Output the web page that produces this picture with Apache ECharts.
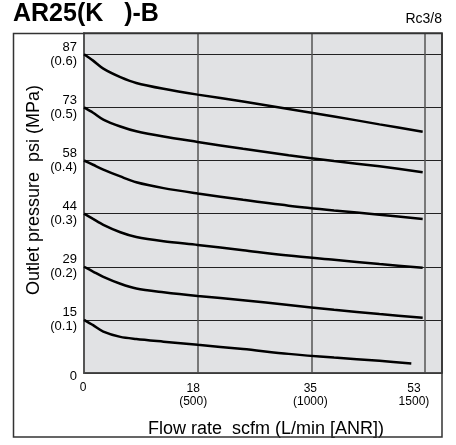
<!DOCTYPE html>
<html><head><meta charset="utf-8">
<script src="https://cdn.jsdelivr.net/npm/echarts@6/dist/echarts.min.js"></script>
<style>html,body{margin:0;padding:0;background:#fff}#c{width:456px;height:445px}</style>
</head><body><div id="c"></div>
<script>
// Flow rate in L/min [ANR], outlet pressure in MPa
const flow = [0, 40, 85, 160, 230, 350, 500, 700, 900, 1100, 1300, 1490];
const flowLow = [0, 40, 85, 160, 230, 350, 500, 700, 900, 1100, 1300, 1440];
const p06 = [0.600, 0.588, 0.573, 0.557, 0.546, 0.535, 0.524, 0.511, 0.497, 0.483, 0.468, 0.454];
const p05 = [0.500, 0.490, 0.477, 0.464, 0.455, 0.445, 0.435, 0.422, 0.410, 0.399, 0.389, 0.378];
const p04 = [0.400, 0.392, 0.383, 0.370, 0.359, 0.348, 0.338, 0.326, 0.315, 0.306, 0.298, 0.290];
const p03 = [0.300, 0.290, 0.279, 0.265, 0.256, 0.248, 0.241, 0.231, 0.221, 0.213, 0.205, 0.198];
const p02 = [0.200, 0.191, 0.181, 0.168, 0.159, 0.152, 0.145, 0.137, 0.128, 0.119, 0.111, 0.104];
const p01 = [0.100, 0.090, 0.078, 0.068, 0.064, 0.059, 0.053, 0.045, 0.036, 0.029, 0.023, 0.018];

const xTickValues = [0, 500, 1000, 1500];
const xTickScfm = ['0', '18', '35', '53'];
const xTickLmin = ['', '(500)', '(1000)', '1500)'];
const yTickPsi = ['0', '15', '29', '44', '58', '73', '87'];
const yTickMPa = ['', '(0.1)', '(0.2)', '(0.3)', '(0.4)', '(0.5)', '(0.6)'];

const titleText = 'AR25(K   )-B';
const portText = 'Rc3/8';
const xTitle = 'Flow rate  scfm (L/min [ANR])';
const yTitle = 'Outlet pressure  psi (MPa)';

const curves = [
  {x: flow, y: p06}, {x: flow, y: p05}, {x: flow, y: p04},
  {x: flow, y: p03}, {x: flow, y: p02}, {x: flowLow, y: p01}
];

const FONT = '"Liberation Sans", Arial, Helvetica, sans-serif';
const xShift = [0, 9, 2, 22];
const chart = echarts.init(document.getElementById('c'), null, {renderer: 'canvas'});

const xRich = {z: {fontSize: 12, fontFamily: FONT, color: '#000', padding: [0, 2, 0, 0]}};
xTickValues.forEach((v, i) => {
  xRich['a' + i] = {fontSize: 12, fontFamily: FONT, color: '#000', lineHeight: 13, padding: [0, xShift[i], 0, 0]};
});

chart.setOption({
  animation: false,
  backgroundColor: '#fff',
  grid: {left: 84, top: 33, right: 14, bottom: 72, containLabel: false, outerBoundsMode: 'none',
         show: true, backgroundColor: '#e1e2e4', borderColor: '#444', borderWidth: 1.5},
  graphic: [
    {type: 'rect', shape: {x: 13.5, y: 33.5, width: 428.5, height: 403.5}, style: {fill: 'none', stroke: '#333', lineWidth: 1.5}, z: 10},
    {type: 'text', x: 13, y: 2, style: {text: titleText, font: 'bold 25px ' + FONT, fill: '#000'}},
    {type: 'text', x: 442, y: 19, style: {text: portText, font: '14px ' + FONT, fill: '#000', textAlign: 'right', textVerticalAlign: 'middle'}},
    {type: 'text', x: 266, y: 429, style: {text: xTitle, font: '18px ' + FONT, fill: '#000', textAlign: 'center', textVerticalAlign: 'middle'}},
    {type: 'text', x: 34, y: 190, rotation: Math.PI / 2, style: {text: yTitle, font: '18px ' + FONT, fill: '#000', textAlign: 'center', textVerticalAlign: 'middle'}}
  ],
  xAxis: {
    type: 'value', min: 0, max: 1575, interval: 500,
    axisLine: {show: true, lineStyle: {color: '#444', width: 1.5}},
    axisTick: {show: false},
    splitLine: {show: true, lineStyle: {color: '#555', width: 1.5}},
    axisLabel: {
      margin: 9, fontFamily: FONT, color: '#000', showMaxLabel: false,
      formatter: function (v) {
        const i = xTickValues.indexOf(Math.round(v));
        if (i < 0) return '';
        if (i === 0) return '{z|0}';
        return '{a' + i + '|' + xTickScfm[i] + '}\n{a' + i + '|' + xTickLmin[i] + '}';
      },
      rich: xRich
    }
  },
  yAxis: {
    type: 'value', min: 0, max: 0.64, interval: 0.1,
    axisLine: {show: true, lineStyle: {color: '#555', width: 2}},
    axisTick: {show: false},
    splitLine: {show: true, lineStyle: {color: '#222', width: 1}},
    axisLabel: {
      margin: 7, fontFamily: FONT, color: '#000', showMaxLabel: false,
      formatter: function (v) {
        const i = Math.round(v * 10);
        if (Math.abs(v * 10 - i) > 0.01 || i > 6) return '';
        if (i === 0) return '{z|0}';
        return '{a|' + yTickPsi[i] + '}\n{b|' + yTickMPa[i] + '}';
      },
      rich: {
        z: {fontSize: 13, fontFamily: FONT, color: '#000', padding: [6, 0, 0, 0]},
        a: {fontSize: 13, fontFamily: FONT, color: '#000', lineHeight: 14, align: 'right'},
        b: {fontSize: 13, fontFamily: FONT, color: '#000', lineHeight: 14, align: 'right'}
      }
    }
  },
  series: curves.map(c => ({
    type: 'line', smooth: 0.3, symbol: 'none', clip: true,
    lineStyle: {color: '#000', width: 2.5},
    data: c.x.map((x, i) => [x, c.y[i]])
  }))
});
</script></body></html>
